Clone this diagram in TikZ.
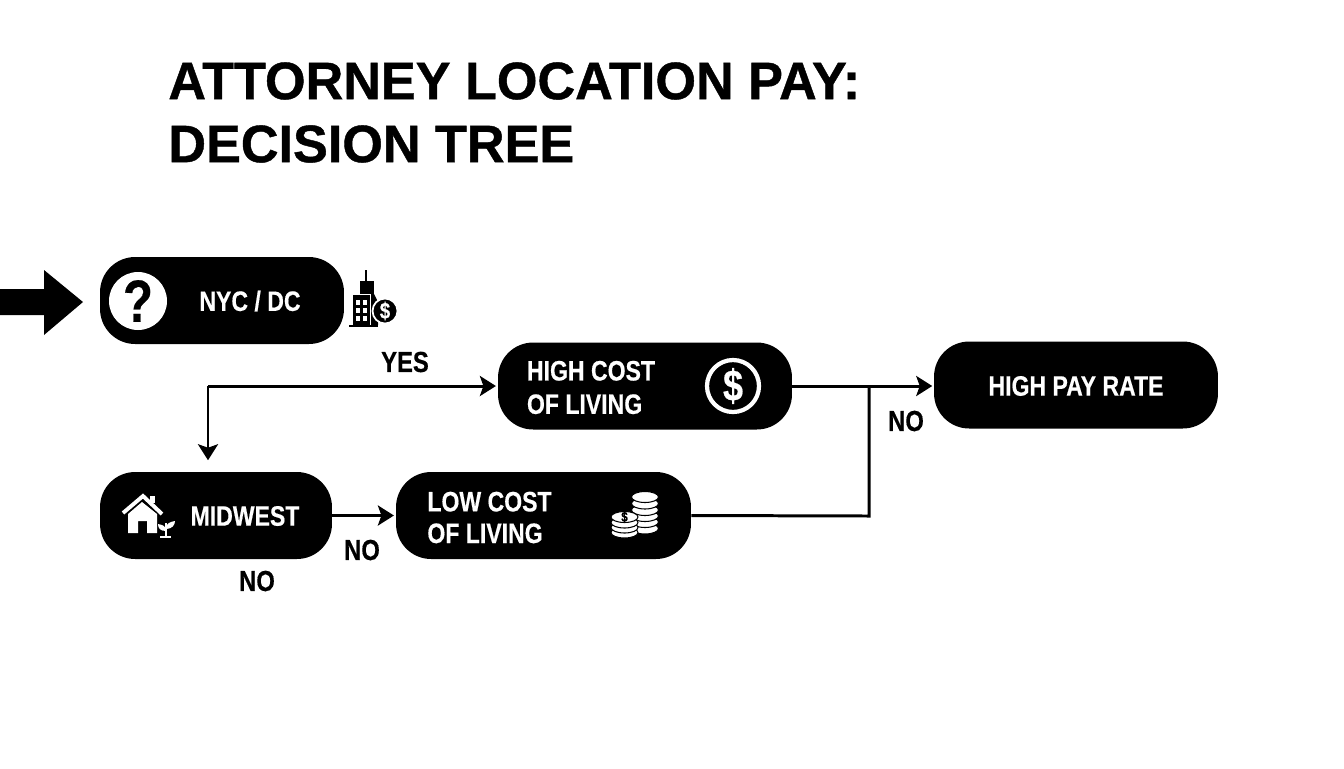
\documentclass[tikz,border=0pt]{standalone}
\usepackage{fontspec}
\usetikzlibrary{arrows.meta}
\setmainfont[BoldFont=*,FakeStretch=0.82,FakeBold=0.4]{Liberation Sans Bold}
\newfontfamily\titlefont[FakeBold=0.8,FakeStretch=0.99]{Liberation Sans Bold}
\tikzset{
  decision/.style={fill=black, rounded corners=20pt, minimum height=1.74cm, inner sep=0pt},
  boxtext/.style={text=white, font=\fontsize{16}{18}\selectfont, align=left, inner sep=0pt},
  edgetext/.style={text=black, font=\fontsize{16.5}{18}\selectfont, inner sep=0pt},
  titletext/.style={text=black, font=\titlefont\fontsize{30}{34}\selectfont, inner sep=0pt, anchor=west},
  link/.style={line width=1.7pt, -{Stealth[length=0.32cm, width=0.4cm, inset=0.07cm]}, shorten >=1pt},
  plainlink/.style={line width=1.7pt}
}
\begin{document}
\begin{tikzpicture}[x=0.02cm, y=-0.02cm]
\useasboundingbox (0, 0) rectangle (1344, 768);
\node [titletext] (titleone) at (168, 81) {ATTORNEY LOCATION PAY:};
\node [titletext] (titletwo) at (168, 144) {DECISION TREE};
% boxes
\node [decision, minimum width=4.88cm] (nycdc) at (222, 300.5) {};
\node [decision, minimum width=5.88cm] (highcost) at (645, 386) {};
\node [decision, minimum width=5.68cm] (highpay) at (1076, 385) {};
\node [decision, minimum width=4.64cm] (midwest) at (216, 515.5) {};
\node [decision, minimum width=5.90cm] (lowcost) at (543.5, 515.5) {};
% box labels
\node [boxtext] (nyctext) at (250, 301) {NYC / DC};
\node [boxtext] (hightext) at (591, 387.5) {HIGH COST\\[1pt]OF LIVING};
\node [boxtext] (paytext) at (1076, 386) {HIGH PAY RATE};
\node [boxtext] (midtext) at (245, 516) {MIDWEST};
\node [boxtext] (lowtext) at (489.5, 517.5) {LOW COST\\[0pt]OF LIVING};
% entry arrow
\fill (0, 289) -- (44, 289) -- (44, 270) -- (83, 302) -- (44, 335) -- (44, 315) -- (0, 315) -- cycle;
% connectors
\coordinate (corner) at (208, 386);
\coordinate (midtop) at (208, 462);
\coordinate (payend) at (934, 386);
\coordinate (join) at (869, 386);
\coordinate (lowbend) at (869, 516);
\draw [link] (corner) -- (highcost.west);
\draw [link] (corner) -- (midtop);
\draw [link] (highcost.east) -- (payend);
\draw [link] (midwest.east) -- (lowcost.west);
\draw [plainlink] (lowcost.east) -- (lowbend) -- (join);
% connector labels
\node [edgetext] (yes) at (405, 362) {YES};
\node [edgetext] (nopay) at (906, 421) {NO};
\node [edgetext] (nolow) at (362, 550) {NO};
\node [edgetext] (nomid) at (257, 581) {NO};
% question icon
\fill [white] (138, 301) circle (29);
\node [text=black, font=\fontsize{34}{36}\selectfont, inner sep=0pt] (question) at (138, 301) {?};
% dollar icon
\draw [white, line width=2.4pt] (733, 386) circle (26);
\node [text=white, font=\fontsize{25}{27}\selectfont, inner sep=0pt] (dollar) at (733, 386) {\$};
% city icon
\draw [line width=1pt] (366, 270) -- (366, 281);
\fill (360, 281) rectangle (374, 294);
\fill (374, 294) -- (378, 302) -- (378, 325) -- (371, 325) -- (371, 294) -- cycle;
\fill (353, 295) rectangle (370, 325);
\draw [line width=0.8pt] (349, 326) -- (378, 326);
\foreach \xa in {356, 363} \foreach \ya in {300, 308, 316} \fill [white] (\xa, \ya) rectangle +(4, 5);
\filldraw [fill=black, draw=white, line width=1pt] (385, 311) circle (12.5);
\node [text=white, font=\fontsize{13}{14}\selectfont, inner sep=0pt] (citydollar) at (385, 311) {\$};
% house icon
\fill [white] (128, 514) -- (142, 502) -- (157, 514) -- (157, 533) -- (147, 533) -- (147, 521) -- (138, 521) -- (138, 533) -- (128, 533) -- cycle;
\draw [white, line width=2.2pt] (123, 513) -- (143, 496) -- (162, 514);
\fill [white] (150, 496) rectangle (155, 503);
% plant icon
\draw [white, line width=1.2pt] (166, 523) -- (166, 536);
\draw [white, line width=1.4pt] (160, 537) -- (171, 537);
\fill [white] (166, 531) .. controls (160, 531) and (158, 528) .. (158, 524) .. controls (163, 525) and (166, 526) .. (166, 531);
\fill [white] (166, 529) .. controls (172, 529) and (175, 525) .. (175, 521) .. controls (170, 522) and (166, 523) .. (166, 529);
% coin icon
\foreach \ya in {528.5, 522, 516, 510, 503.5, 497}
  \filldraw [fill=white, draw=black, line width=0.6pt] (645, \ya) ellipse (13.5 and 5.5);
\foreach \ya in {532.5, 527.5, 522.5, 517}
  \filldraw [fill=white, draw=black, line width=0.6pt] (624.5, \ya) ellipse (13.5 and 5.5);
\node [text=black, font=\fontsize{8}{9}\selectfont, inner sep=0pt] (coindollar) at (624.5, 517) {\$};
\end{tikzpicture}
\end{document}
